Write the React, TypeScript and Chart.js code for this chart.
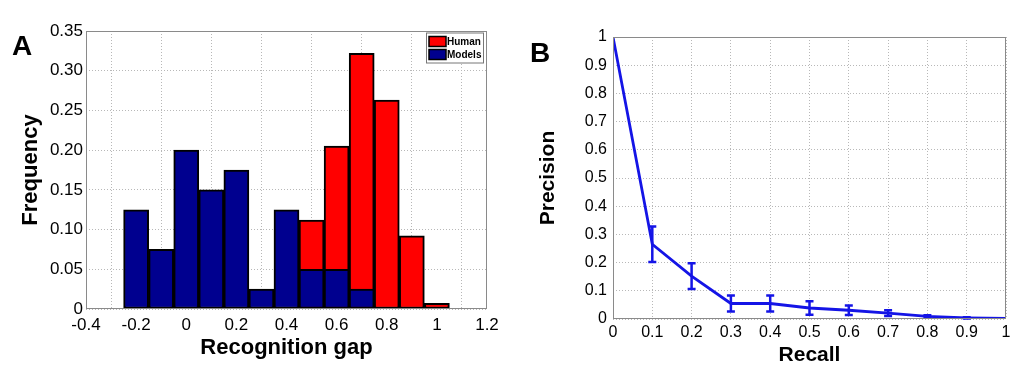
import React, { useEffect, useRef } from 'react';
import { Chart, registerables } from 'chart.js';

Chart.register(...registerables);

const FONT = '"Liberation Sans", Arial, Helvetica, sans-serif';

// Panel A: histogram of recognition gap
const modelBins = [-0.2, -0.1, 0, 0.1, 0.2, 0.3, 0.4, 0.5, 0.6, 0.7];
const modelFreq = [0.125, 0.075, 0.2, 0.15, 0.175, 0.025, 0.125, 0.05, 0.05, 0.025];
const humanBins = [0.5, 0.6, 0.7, 0.8, 0.9, 1.0];
const humanFreq = [0.112, 0.205, 0.322, 0.263, 0.092, 0.007];
const gapTicks = [-0.4, -0.2, 0, 0.2, 0.4, 0.6, 0.8, 1.0, 1.2];
const gapTickLabels = ['-0.4', '-0.2', '0', '0.2', '0.4', '0.6', '0.8', '1', '1.2'];
const freqTicks = [0, 0.05, 0.1, 0.15, 0.2, 0.25, 0.3, 0.35];
const freqTickLabels = ['0', '0.05', '0.10', '0.15', '0.20', '0.25', '0.30', '0.35'];
const legendLabels = ['Human', 'Models'];

// Panel B: precision-recall
const recall = [0, 0.1, 0.2, 0.3, 0.4, 0.5, 0.6, 0.7, 0.8, 0.9, 1.0];
const precision = [1.0, 0.265, 0.152, 0.055, 0.055, 0.039, 0.031, 0.021, 0.009, 0.004, 0.002];
const precisionErr = [0, 0.063, 0.046, 0.028, 0.028, 0.024, 0.017, 0.01, 0.004, 0.002, 0];
const recallTicks = [0, 0.1, 0.2, 0.3, 0.4, 0.5, 0.6, 0.7, 0.8, 0.9, 1.0];
const recallTickLabels = ['0', '0.1', '0.2', '0.3', '0.4', '0.5', '0.6', '0.7', '0.8', '0.9', '1'];
const precTicks = [0, 0.1, 0.2, 0.3, 0.4, 0.5, 0.6, 0.7, 0.8, 0.9, 1.0];
const precTickLabels = ['0', '0.1', '0.2', '0.3', '0.4', '0.5', '0.6', '0.7', '0.8', '0.9', '1'];

const HUMAN_RED = '#ff0000';
const MODEL_BLUE = '#00008f';
const LINE_BLUE = '#1414e6';
const GRID = '#b8b8b8';
const FRAME = '#8a8a8a';

function framePlugin(panel: string, px: number, py: number) {
  return {
    id: 'frame_' + panel,
    afterDraw(chart: any) {
      const { ctx, chartArea: a } = chart;
      ctx.save();
      ctx.strokeStyle = FRAME;
      ctx.lineWidth = 1;
      ctx.strokeRect(Math.round(a.left) + 0.5, Math.round(a.top) + 0.5,
        Math.round(a.right - a.left) - 1, Math.round(a.bottom - a.top) - 1);
      ctx.fillStyle = '#000';
      ctx.font = 'bold 28px ' + FONT;
      ctx.textBaseline = 'alphabetic';
      ctx.textAlign = 'left';
      ctx.fillText(panel, px, py);
      ctx.restore();
    },
  };
}

const legendPlugin = {
  id: 'histLegend',
  afterDraw(chart: any) {
    const { ctx, chartArea: a } = chart;
    const right = a.right - 4;
    const left = right - 57;
    const top = a.top + 1.5;
    ctx.save();
    ctx.fillStyle = '#fff';
    ctx.fillRect(left, top, right - left, 30);
    ctx.strokeStyle = '#777';
    ctx.lineWidth = 1;
    ctx.strokeRect(left + 0.5, top + 0.5, right - left, 30);
    const colors = [HUMAN_RED, MODEL_BLUE];
    legendLabels.forEach((lab, i) => {
      const y = top + 4 + i * 13;
      ctx.fillStyle = colors[i];
      ctx.fillRect(left + 3, y, 17, 10);
      ctx.strokeStyle = '#000';
      ctx.lineWidth = 1.5;
      ctx.strokeRect(left + 3, y, 17, 10);
      ctx.fillStyle = '#000';
      ctx.font = 'bold 10px ' + FONT;
      ctx.textBaseline = 'middle';
      ctx.textAlign = 'left';
      ctx.fillText(lab, left + 21, y + 5.5);
    });
    ctx.restore();
  },
};

const errorBarPlugin = {
  id: 'errorBars',
  afterDatasetsDraw(chart: any) {
    const { ctx, scales } = chart;
    const xs = scales.x;
    const ys = scales.y;
    ctx.save();
    ctx.strokeStyle = LINE_BLUE;
    ctx.lineWidth = 2.5;
    recall.forEach((r, i) => {
      const e = precisionErr[i];
      if (!e) return;
      const x = xs.getPixelForValue(r);
      const y1 = ys.getPixelForValue(precision[i] - e);
      const y2 = ys.getPixelForValue(precision[i] + e);
      ctx.beginPath();
      ctx.moveTo(x, y1);
      ctx.lineTo(x, y2);
      ctx.moveTo(x - 4, y1);
      ctx.lineTo(x + 4, y1);
      ctx.moveTo(x - 4, y2);
      ctx.lineTo(x + 4, y2);
      ctx.stroke();
    });
    ctx.restore();
  },
};

function axisCommon(ticks: number[], labels: string[], pad: number, size: number) {
  return {
    type: 'linear' as const,
    offset: false,
    afterBuildTicks: (s: any) => {
      s.ticks = ticks.map((v) => ({ value: v }));
    },
    ticks: {
      callback: (_v: any, i: number) => labels[i],
      font: { family: FONT, size },
      color: '#000',
      padding: pad,
      autoSkip: false,
      maxRotation: 0,
      minRotation: 0,
    },
    grid: { color: GRID, lineWidth: 1, drawTicks: false },
    border: { display: false, dash: [1, 2] },
  };
}

export default function App() {
  const leftRef = useRef<HTMLCanvasElement>(null);
  const rightRef = useRef<HTMLCanvasElement>(null);

  useEffect(() => {
    const c1 = new Chart(leftRef.current as HTMLCanvasElement, {
      type: 'bar',
      data: {
        datasets: [
          {
            label: 'Models',
            data: modelBins.map((x, i) => ({ x, y: modelFreq[i] })),
            backgroundColor: MODEL_BLUE,
            borderColor: '#000',
            borderWidth: 2,
            borderSkipped: false,
            order: 0,
          },
          {
            label: 'Human',
            data: humanBins.map((x, i) => ({ x, y: humanFreq[i] })),
            backgroundColor: HUMAN_RED,
            borderColor: '#000',
            borderWidth: 2,
            borderSkipped: false,
            order: 1,
          },
        ] as any,
      },
      options: {
        animation: false,
        responsive: false,
        datasets: { bar: { barPercentage: 1, categoryPercentage: 1, grouped: false } } as any,
        layout: { padding: { left: 0, top: 31, right: 33, bottom: 0 } },
        plugins: { legend: { display: false }, tooltip: { enabled: false } },
        scales: {
          x: {
            ...axisCommon(gapTicks, gapTickLabels, 6, 17),
            min: -0.4,
            max: 1.2,
            title: {
              display: true,
              text: 'Recognition gap',
              color: '#000',
              font: { family: FONT, size: 22, weight: 'bold' },
              padding: { top: 0, bottom: 12 },
            },
            afterFit: (s: any) => {
              s.height = 64;
              s.paddingLeft = 0;
              s.paddingRight = 0;
            },
          },
          y: {
            ...axisCommon(freqTicks, freqTickLabels, 3, 17),
            min: 0,
            max: 0.35,
            title: {
              display: true,
              text: 'Frequency',
              color: '#000',
              font: { family: FONT, size: 22, weight: 'bold' },
              padding: { top: 18, bottom: 0 },
            },
            afterFit: (s: any) => {
              s.width = 86;
              s.paddingTop = 0;
              s.paddingBottom = 0;
            },
          },
        } as any,
      },
      plugins: [legendPlugin, framePlugin('A', 12, 55)],
    });

    const c2 = new Chart(rightRef.current as HTMLCanvasElement, {
      type: 'line',
      data: {
        datasets: [
          {
            label: 'Precision',
            data: recall.map((x, i) => ({ x, y: precision[i] })),
            borderColor: LINE_BLUE,
            backgroundColor: LINE_BLUE,
            borderWidth: 2.8,
            pointRadius: 0,
            tension: 0,
            fill: false,
          },
        ],
      },
      options: {
        animation: false,
        responsive: false,
        layout: { padding: { left: 0, top: 37, right: 22, bottom: 0 } },
        plugins: { legend: { display: false }, tooltip: { enabled: false } },
        scales: {
          x: {
            ...axisCommon(recallTicks, recallTickLabels, 4, 16),
            min: 0,
            max: 1,
            title: {
              display: true,
              text: 'Recall',
              color: '#000',
              font: { family: FONT, size: 21, weight: 'bold' },
              padding: { top: 0, bottom: 5 },
            },
            afterFit: (s: any) => {
              s.height = 54;
              s.paddingLeft = 0;
              s.paddingRight = 0;
            },
          },
          y: {
            ...axisCommon(precTicks, precTickLabels, 6, 16),
            min: 0,
            max: 1,
            title: {
              display: true,
              text: 'Precision',
              color: '#000',
              font: { family: FONT, size: 21, weight: 'bold' },
              padding: { top: 16, bottom: 0 },
            },
            afterFit: (s: any) => {
              s.width = 93;
              s.paddingTop = 0;
              s.paddingBottom = 0;
            },
          },
        } as any,
      },
      plugins: [errorBarPlugin, framePlugin('B', 10, 62)],
    });

    return () => {
      c1.destroy();
      c2.destroy();
    };
  }, []);

  return (
    <div style={{ position: 'absolute', left: 0, top: 0, width: 1028, height: 373, background: '#fff' }}>
      <canvas ref={leftRef} width={520} height={373} style={{ position: 'absolute', left: 0, top: 0 }} />
      <canvas ref={rightRef} width={508} height={373} style={{ position: 'absolute', left: 520, top: 0 }} />
    </div>
  );
}
